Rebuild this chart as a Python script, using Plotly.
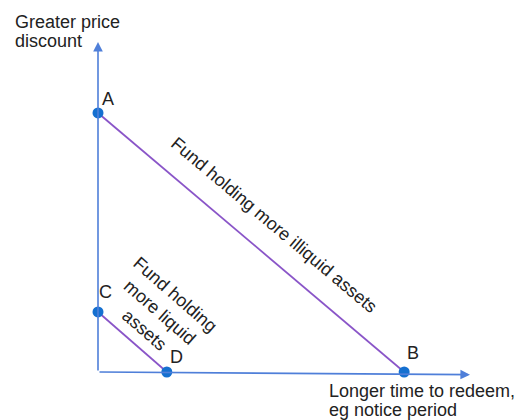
import plotly.graph_objects as go

# Point data (abstract units: x = time to redeem, y = price discount)
point_labels = ["A", "B", "C", "D"]
point_x = [0.0, 8.23, 0.0, 1.85]
point_y = [7.85, 0.0, 1.82, 0.0]

line_illiquid = ["A", "B"]
line_liquid = ["C", "D"]

x_axis_lines = ["Longer time to redeem,", "eg notice period"]
y_axis_lines = ["Greater price", "discount"]
illiquid_text = "Fund holding more illiquid assets"
liquid_text = "Fund holding<br>more liquid<br>assets"

AXIS_MAX = 10
FONT = "Liberation Sans, Arial, sans-serif"
FS = 18
TXT = "#222222"
AXIS_COL = "#4F7FD9"
LINE_COL = "#8A55C8"
DOT_COL = "#1570D0"

# plot-area geometry in page pixels
W, H = 520, 420
PL, PT, PR, PB = 98, 42, 470, 372
PW, PH = PR - PL, PB - PT


def px(xp):
    return (xp - PL) / PW


def py(yp):
    return (PB - yp) / PH


pos = {l: (x, y) for l, x, y in zip(point_labels, point_x, point_y)}

fig = go.Figure()

for seg in (line_illiquid, line_liquid):
    fig.add_trace(go.Scatter(
        x=[pos[s][0] for s in seg], y=[pos[s][1] for s in seg],
        mode="lines", line=dict(color=LINE_COL, width=1.8),
        hoverinfo="skip", showlegend=False, cliponaxis=False))

fig.add_trace(go.Scatter(
    x=point_x, y=point_y, mode="markers",
    marker=dict(color=DOT_COL, size=11),
    showlegend=False, cliponaxis=False))

# axes as arrows
fig.add_annotation(x=0, y=AXIS_MAX, ax=0, ay=0, xref="x", yref="y",
                   axref="x", ayref="y", text="", showarrow=True,
                   arrowhead=2, arrowsize=1.2, arrowwidth=1.6, arrowcolor=AXIS_COL)
fig.add_annotation(x=AXIS_MAX, y=-0.08, ax=0, ay=0, xref="x", yref="y",
                   axref="x", ayref="y", text="", showarrow=True,
                   arrowhead=2, arrowsize=1.2, arrowwidth=1.6, arrowcolor=AXIS_COL)

# point labels (pixel offsets from the points)
label_offsets = {"A": (10, -14), "B": (9, -19), "C": (7, -20), "D": (10, -15)}
for l in point_labels:
    dx, dy = label_offsets[l]
    fig.add_annotation(x=pos[l][0], y=pos[l][1], text=l, showarrow=False,
                       xshift=dx, yshift=-dy,
                       font=dict(family=FONT, size=FS, color=TXT))

# axis titles, one annotation per line for tight line spacing
for t, yc in zip(y_axis_lines, [22, 41]):
    fig.add_annotation(x=px(13), y=py(yc), xref="paper", yref="paper",
                       text=t, showarrow=False, xanchor="left",
                       yanchor="middle", font=dict(family=FONT, size=FS, color=TXT))
for t, yc in zip(x_axis_lines, [391, 410]):
    fig.add_annotation(x=px(327), y=py(yc), xref="paper", yref="paper",
                       text=t, showarrow=False, xanchor="left",
                       yanchor="middle", font=dict(family=FONT, size=FS, color=TXT))

# rotated line descriptions
fig.add_annotation(xref="paper", yref="paper", x=px(274), y=py(225),
                   text=illiquid_text, showarrow=False, textangle=40,
                   xanchor="center", yanchor="middle",
                   font=dict(family=FONT, size=FS, color=TXT))
fig.add_annotation(xref="paper", yref="paper", x=px(160), y=py(312),
                   text=liquid_text, showarrow=False, textangle=41, align="center",
                   xanchor="center", yanchor="middle",
                   font=dict(family=FONT, size=FS, color=TXT))

fig.update_xaxes(range=[0, AXIS_MAX], visible=False, fixedrange=True)
fig.update_yaxes(range=[0, AXIS_MAX], visible=False, fixedrange=True)
fig.update_layout(width=W, height=H,
                  margin=dict(l=PL, r=W - PR, t=PT, b=H - PB),
                  plot_bgcolor="white", paper_bgcolor="white")

fig.write_html("out.html", config={"displayModeBar": False},
               post_script="document.body.style.margin='0';"
                           "document.body.style.overflow='hidden';")
